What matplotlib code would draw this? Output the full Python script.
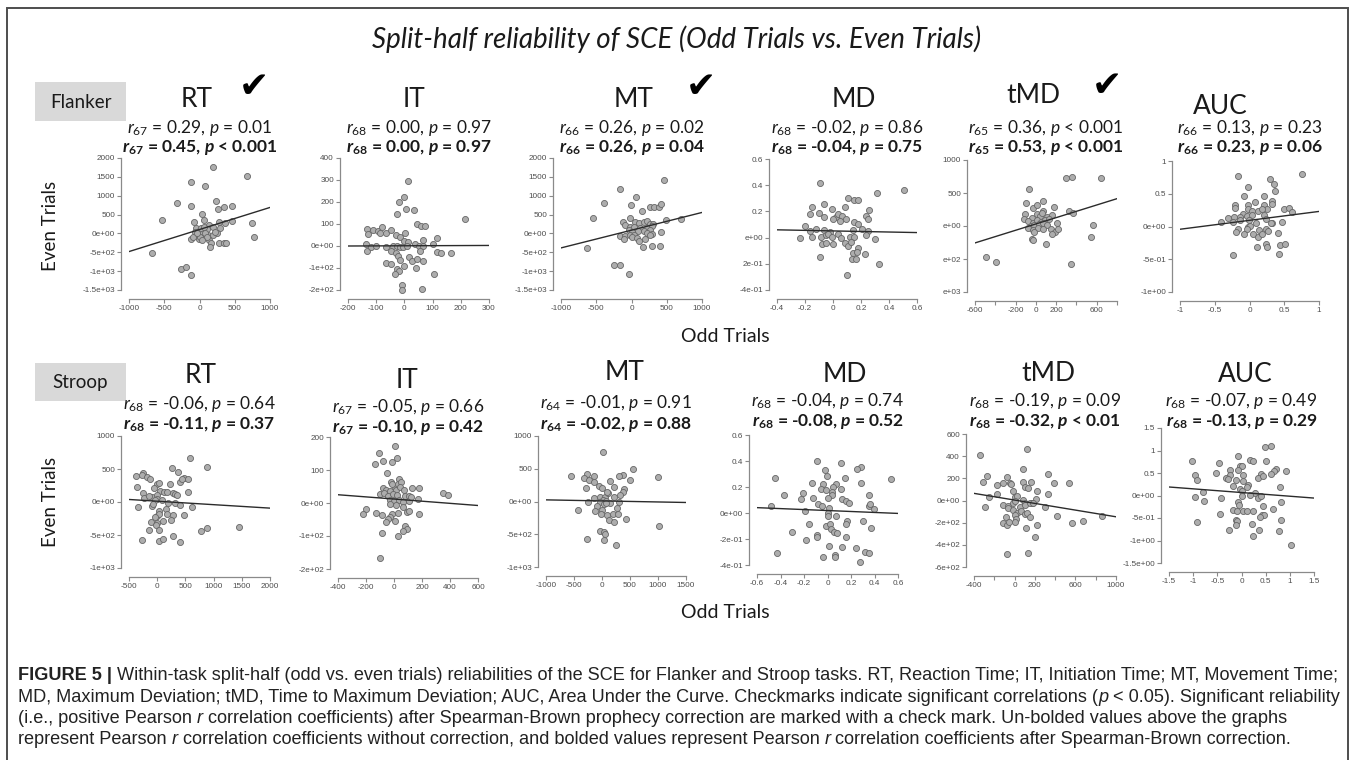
import matplotlib
matplotlib.use('Agg')
import matplotlib.pyplot as plt
import numpy as np
from matplotlib.patches import Rectangle

plt.rcParams['mathtext.fontset'] = 'custom'
plt.rcParams['mathtext.rm'] = 'Lato'
plt.rcParams['mathtext.it'] = 'Lato:italic'
plt.rcParams['mathtext.bf'] = 'Lato:bold'
try:
    plt.rcParams['mathtext.bfit'] = 'Lato:italic:bold'
    BFIT = r'\mathbfit'
except KeyError:
    BFIT = r'\mathbf'

# ---------------- DATA ----------------
tasks = ['Flanker', 'Stroop']
measures = ['RT', 'IT', 'MT', 'MD', 'tMD', 'AUC']

# Flanker
flanker_rt_odd = [190,669,-125,83,-324,-116,229,262,347,465,-537,40,-74,68,139,276,366,465,744,-55,-7,101,196,291,-31,45,125,196,244,777,-125,-2,139,168,272,347,376,148,-674,-262,-191,-125,-59,21,64,-88,7,78,-40,101,31,220]
flanker_rt_even = [1760,1530,1370,1270,803,723,856,644,706,732,343,520,298,360,228,298,272,325,272,139,77,113,183,139,-12,6,-38,-38,6,-82,-153,-153,-171,-241,-259,-241,-241,-348,-525,-942,-898,-1102,33,139,183,-100,-82,24,6,-82,-171,50]
flanker_it_odd = [12,-3,-19,7,35,-26,44,59,74,-133,-130,-112,-95,-87,-79,-64,-46,-31,-17,1,-2,12,36,65,114,100,-136,-134,-118,-101,-64,-40,-25,-17,-5,9,51,67,56,115,129,164,-49,-31,-24,18,26,46,65,-65,-49,-17,0,-25,-19,-35,42,106,-7,-8,63,214]
flanker_it_even = [297,221,198,169,163,144,100,89,89,79,56,71,66,59,86,60,71,48,40,59,25,17,7,29,37,7,7,-21,-6,-1,-6,2,-1,-6,-3,-1,-1,-1,-24,-29,-32,-30,-24,-32,-47,-52,-70,-58,-70,-75,-82,-64,-91,-105,-113,-128,-102,-125,-179,-202,-197,123]
flanker_mt_odd = [456,-158,69,-385,-12,144,258,324,383,421,-546,-17,-121,-87,54,106,173,220,267,305,494,702,-17,40,125,220,286,-40,7,87,173,258,-158,-97,-26,40,220,286,423,-111,7,78,111,196,258,163,286,404,-636,-243,-168,-35]
flanker_mt_even = [1404,1191,978,801,748,606,713,713,695,784,405,396,290,228,290,264,290,317,255,237,343,379,166,175,139,157,184,86,51,68,59,95,-65,-65,-38,-38,24,-3,51,-153,-82,-109,-198,-153,-47,-348,-330,-330,-392,-835,-844,-1083]
flanker_md_odd = [-0.095,0.314,0.505,-0.15,-0.067,-0.005,0.107,0.086,0.15,0.179,0.257,-0.167,-0.1,-0.067,0.024,0.036,0.064,0,0.048,0.09,0.148,0.179,0.238,0.248,-0.198,-0.119,-0.167,-0.067,-0.024,0.143,0.207,0.25,-0.238,-0.148,-0.088,-0.048,-0.036,-0.005,0.036,0.06,0.119,0.15,0.238,-0.079,-0.048,0,0.086,0.107,0.126,0.179,0.143,0.174,0.229,0.298,-0.095,0.133,0.162,0.331,0.102]
flanker_md_even = [0.419,0.344,0.365,0.23,0.253,0.217,0.304,0.232,0.289,0.284,0.212,0.179,0.186,0.161,0.161,0.179,0.166,0.141,0.123,0.143,0.12,0.105,0.166,0.143,0.09,0.067,0.051,0.059,0.046,0.059,0.064,0.051,-0.005,0.001,0.008,0.021,0.029,0.008,0.026,-0.005,0.008,0.001,0.021,-0.05,-0.043,-0.048,-0.043,-0.063,-0.035,-0.076,-0.114,-0.107,-0.125,-0.013,-0.148,-0.163,-0.163,-0.203,-0.285]
flanker_tmd_odd = [294,360,640,-64,-100,74,-25,15,74,183,331,364,-103,-41,8,41,58,107,156,-117,-74,-31,8,48,90,132,205,-51,-15,35,67,107,-74,-25,25,74,146,192,222,-21,156,-38,-31,97,567,547,-491,-393,347]
flanker_tmd_even = [722,742,727,565,342,377,271,311,225,286,230,200,175,124,175,149,200,139,165,99,78,48,84,58,84,99,48,-3,8,23,38,8,-28,-63,-28,-43,-53,-84,-38,-94,-119,-190,-205,-266,13,-170,-473,-544,-575]
flanker_auc_odd = [-0.167,0.756,-0.019,0.301,0.349,0.373,-0.072,0.211,-0.206,-0.215,-0.024,0.081,0.321,0.321,0.206,0.258,-0.019,0.029,0.124,0.187,0.502,0.569,0.608,-0.096,-0.22,-0.139,-0.043,0.029,0.206,0.244,-0.306,-0.416,-0.234,-0.139,-0.005,0.1,0.325,0.474,0.306,-0.172,-0.019,0.014,0.139,0.234,0.268,-0.196,-0.043,-0.081,0.053,0.12,0.187,0.411,0.11,0.244,0.258,0.435,0.507,0.421,-0.234]
flanker_auc_even = [0.765,0.806,0.602,0.724,0.648,0.541,0.459,0.469,0.321,0.276,0.332,0.378,0.393,0.337,0.327,0.265,0.26,0.24,0.235,0.265,0.26,0.286,0.224,0.189,0.148,0.148,0.158,0.173,0.173,0.122,0.133,0.066,0.071,0.097,0.097,0.056,0.046,0.071,0.046,-0.031,-0.005,0.005,-0.046,-0.031,-0.071,-0.082,-0.041,-0.122,-0.122,-0.158,-0.117,-0.097,-0.311,-0.27,-0.311,-0.286,-0.26,-0.413,-0.429]

# Stroop
stroop_rt_odd = [576,888,256,375,-375,-245,-263,-175,-128,475,404,434,552,-364,2,38,-51,225,-258,-98,50,120,179,273,314,352,552,-234,-145,-9,2,-45,83,197,314,404,611,-334,-98,-68,38,150,-9,38,-45,168,273,481,238,-110,109,-9,-21,-145,38,1451,888,776,-275,26,109,273,404]
stroop_rt_even = [662,531,521,461,400,446,411,375,345,370,310,345,345,234,275,285,209,270,134,83,174,144,144,134,123,108,144,58,93,108,48,23,23,-18,-18,-43,-78,-83,-68,-28,-134,-108,-209,-184,-229,-184,-194,-204,-270,-310,-295,-320,-355,-421,-421,-380,-395,-446,-577,-587,-557,-511,-607]
stroop_it_odd = [8,-108,18,-80,-13,-134,-51,-20,39,-80,-56,-103,-68,-32,6,30,51,-13,15,44,70,127,177,348,383,-44,-8,23,82,110,170,-27,-1,39,63,-32,11,63,106,122,-198,-131,-222,-84,-13,27,91,106,177,-32,-44,-60,6,82,91,63,32,-87,-103]
stroop_it_even = [174,152,135,128,125,117,91,65,72,45,40,27,30,37,50,58,65,58,40,48,38,45,45,30,25,20,27,25,20,22,13,10,5,10,2,-3,-6,-11,5,17,-19,-29,-34,-36,-34,-29,-28,-24,-34,-43,-49,-59,-56,-71,-78,-84,-100,-92,-168]
stroop_mt_odd = [12,560,369,494,-548,-274,-327,-238,-149,-149,-60,0,149,220,310,387,375,327,-286,994,-137,-30,48,101,89,12,77,208,298,-250,-42,42,149,268,-89,0,-429,-131,-18,89,196,286,429,125,208,-30,42,54,-268,42,256,1012,77]
stroop_mt_even = [751,492,406,330,386,421,355,330,396,305,239,203,320,228,391,193,142,102,203,376,51,66,66,127,152,25,15,76,0,0,0,-36,-25,-102,-76,-127,-127,-152,-193,-203,-188,-193,-264,-279,-320,-447,-467,-492,-569,-584,-660,-381,-25]
stroop_md_odd = [-0.093,0.113,0.287,0.249,-0.021,-0.001,-0.449,0.153,0.284,0.543,-0.13,-0.036,0.073,0.05,-0.058,-0.016,0.036,0.113,-0.207,-0.372,0.041,0.349,-0.222,-0.127,0.001,0.121,0.155,0.184,-0.084,-0.05,0.349,0.363,0.392,-0.477,-0.192,0.016,0.001,0.001,0.07,0.17,0.158,0.298,0.369,-0.155,-0.013,0.021,0.03,0.059,0.079,-0.306,-0.093,-0.093,0.155,-0.184,0.016,0.121,0.244,0.315,0.349,-0.429,-0.041,0.064,0.064,0.278]
stroop_md_even = [0.4,0.382,0.356,0.336,0.331,0.285,0.272,0.267,0.233,0.264,0.228,0.221,0.221,0.197,0.182,0.177,0.164,0.182,0.151,0.138,0.138,0.138,0.105,0.113,0.113,0.108,0.095,0.079,0.069,0.054,0.056,0.069,0.033,0.056,0.015,0.041,-0.003,-0.023,-0.023,-0.059,-0.085,-0.059,-0.118,-0.085,-0.097,-0.087,-0.126,-0.144,-0.151,-0.149,-0.169,-0.187,-0.182,-0.208,-0.254,-0.259,-0.272,-0.297,-0.31,-0.31,-0.336,-0.323,-0.341,-0.374]
stroop_tmd_odd = [-340,121,81,331,-313,-274,-169,-112,-70,-44,-34,88,104,137,160,219,390,541,328,-248,-176,-18,5,22,81,107,170,213,-291,-112,-60,-18,5,55,98,154,180,302,-60,-11,28,68,98,121,157,5,-84,417,865,-119,-77,-51,15,5,219,114,562,674,203,-77,130]
stroop_tmd_even = [413,464,283,240,165,225,141,162,210,156,147,165,119,110,171,86,162,162,59,35,56,86,35,44,5,-26,-20,11,-56,-41,-50,-20,-2,-56,-41,-26,-20,-62,-71,-86,-116,-95,-122,-116,-147,-131,-147,-141,-141,-207,-222,-192,-171,-192,-225,-252,-201,-186,-328,-479,-473]
stroop_auc_odd = [0.484,0.601,-0.069,-1.016,-0.463,0.173,0.242,0.498,-0.035,0.014,-0.069,-0.242,0.712,0.677,0.912,-0.968,-0.518,-0.242,0.035,0.394,0.608,-0.912,-0.325,-0.277,-0.104,0.035,0.346,0.435,0.138,-0.173,0.124,0.795,-0.035,0,-0.795,0.276,0,0.173,0.38,-0.968,-0.415,0.332,0.401,-0.781,0.816,-0.069,-0.055,0.449,0.657,-0.173,-0.083,0.035,0.124,0.242,0.415,0.47,-0.449,0.38,0.816,-0.912,-0.104,-0.083,-0.124,0.207,0.366,-0.263,0.781,0.242,1.016]
stroop_auc_even = [1.078,1.093,0.87,0.759,0.722,0.796,0.759,0.774,0.648,0.648,0.559,0.574,0.589,0.537,0.552,0.463,0.5,0.463,0.463,0.478,0.478,0.337,0.389,0.367,0.352,0.33,0.389,0.426,0.241,0.204,0.189,0.189,0.144,0.093,0.078,0.056,-0.004,0.019,-0.004,-0.033,-0.056,-0.056,-0.019,-0.13,-0.152,-0.152,-0.204,-0.226,-0.3,-0.315,-0.337,-0.337,-0.352,-0.352,-0.426,-0.426,-0.411,-0.478,-0.537,-0.589,-0.537,-0.574,-0.663,-0.626,-0.774,-0.774,-0.796,-0.907,-1.093]

# regression lines (intercept, slope)
flanker_fit_intercept = [104, 1, 86, 0.051, 31, 0.094]
flanker_fit_slope = [0.585, 0.005, 0.47, -0.021, 0.479, 0.136]
stroop_fit_intercept = [12, 12, 9, 0.019, 4, 0.066]
stroop_fit_slope = [-0.0524, -0.0326, -0.016, -0.037, -0.151, -0.082]

# statistics
flanker_df = [67, 68, 66, 68, 65, 66]
flanker_r = ['0.29', '0.00', '0.26', '-0.02', '0.36', '0.13']
flanker_p = ['= 0.01', '= 0.97', '= 0.02', '= 0.86', '< 0.001', '= 0.23']
flanker_r_sb = ['0.45', '0.00', '0.26', '-0.04', '0.53', '0.23']
flanker_p_sb = ['< 0.001', '= 0.97', '= 0.04', '= 0.75', '< 0.001', '= 0.06']
flanker_check = [True, False, True, False, True, False]

stroop_df = [68, 67, 64, 68, 68, 68]
stroop_r = ['-0.06', '-0.05', '-0.01', '-0.04', '-0.19', '-0.07']
stroop_p = ['= 0.64', '= 0.66', '= 0.91', '= 0.74', '= 0.09', '= 0.49']
stroop_r_sb = ['-0.11', '-0.10', '-0.02', '-0.08', '-0.32', '-0.13']
stroop_p_sb = ['= 0.37', '= 0.42', '= 0.88', '= 0.52', '< 0.01', '= 0.29']
stroop_check = [False, False, False, False, False, False]

# axis ticks and labels
flanker_xticks = [[-1000,-500,0,500,1000], [-200,-100,0,100,200,300], [-1000,-500,0,500,1000],
                  [-0.4,-0.2,0,0.2,0.4,0.6], [-600,-400,-200,0,200,400,600,800], [-1,-0.5,0,0.5,1]]
flanker_xlabels = [['-1000','-500','0','500','1000'], ['-200','-100','0','100','200','300'],
                   ['-1000','-500','0','500','1000'], ['-0.4','-0.2','0','0.2','0.4','0.6'],
                   ['-600','','-200','0','200','','600',''], ['-1','-0.5','0','0.5','1']]
flanker_yticks = [[-1500,-1000,-500,0,500,1000,1500,2000], [-200,-100,0,100,200,300,400],
                  [-1500,-1000,-500,0,500,1000,1500,2000], [-0.4,-0.2,0,0.2,0.4,0.6],
                  [-1000,-500,0,500,1000], [-1,-0.5,0,0.5,1]]
flanker_ylabels = [['-1.5e+03','-1e+03','-5e+02','0e+00','500','1000','1500','2000'],
                   ['-2e+02','-1e+02','0e+00','100','200','300','400'],
                   ['-1.5e+03','-1e+03','-5e+02','0e+00','500','1000','1500','2000'],
                   ['-4e-01','2e-01','e+00','0.2','0.4','0.6'],
                   ['e+03','e+02','e+00','500','1000'],
                   ['-1e+00','-5e-01','0e+00','0.5','1']]
stroop_xticks = [[-500,0,500,1000,1500,2000], [-400,-200,0,200,400,600], [-1000,-500,0,500,1000,1500],
                 [-0.6,-0.4,-0.2,0,0.2,0.4,0.6], [-400,-200,0,200,400,600,800,1000],
                 [-1.5,-1,-0.5,0,0.5,1,1.5]]
stroop_xlabels = [['-500','0','500','1000','1500','2000'], ['-400','-200','0','200','400','600'],
                  ['-1000','-500','0','500','1000','1500'], ['-0.6','-0.4','-0.2','0','0.2','0.4','0.6'],
                  ['-400','','0','200','','600','','1000'], ['-1.5','-1','-0.5','0','0.5','1','1.5']]
stroop_yticks = [[-1000,-500,0,500,1000], [-200,-100,0,100,200], [-1000,-500,0,500,1000],
                 [-0.4,-0.2,0,0.2,0.4,0.6], [-600,-400,-200,0,200,400,600],
                 [-1.5,-1,-0.5,0,0.5,1,1.5]]
stroop_ylabels = [['-1e+03','-5e+02','0e+00','500','1000'], ['-2e+02','-1e+02','0e+00','100','200'],
                  ['-1e+03','-5e+02','0e+00','500','1000'], ['-4e-01','-2e-01','0e+00','0.2','0.4','0.6'],
                  ['-6e+02','-4e+02','-2e+02','0e+00','200','400','600'],
                  ['-1.5e+00','-1e+00','-5e-01','0e+00','0.5','1','1.5']]

main_title = 'Split-half reliability of SCE (Odd Trials vs. Even Trials)'
x_label = 'Odd Trials'
y_label = 'Even Trials'
caption_lines = [
    [('FIGURE 5 |', 'bold'), (' Within-task split-half (odd vs. even trials) reliabilities of the SCE for Flanker and Stroop tasks. RT, Reaction Time; IT, Initiation Time; MT, Movement Time;', 'normal')],
    [('MD, Maximum Deviation; tMD, Time to Maximum Deviation; AUC, Area Under the Curve. Checkmarks indicate significant correlations (', 'normal'), ('p', 'italic'), (' < 0.05). Significant reliability', 'normal')],
    [('(i.e., positive Pearson', 'normal'), (' r', 'italic'), (' correlation coefficients) after Spearman-Brown prophecy correction are marked with a check mark. Un-bolded values above the graphs', 'normal')],
    [('represent Pearson', 'normal'), (' r', 'italic'), (' correlation coefficients without correction, and bolded values represent Pearson', 'normal'), (' r', 'italic'), (' correlation coefficients after Spearman-Brown correction.', 'normal')],
]

# ---------------- LAYOUT ----------------
W, H = 1357, 760
fig = plt.figure(figsize=(W / 100, H / 100), dpi=100)
fig.patch.set_facecolor('white')

def fx(x):
    return x / W

def fy(y):
    return 1 - y / H

# plot-region pixel boxes (left, right, top, bottom) = tick extent
panel_px = [
    [(129, 270, 158, 290), (348, 489, 158, 290), (561, 702, 158, 290),
     (777, 917, 159, 290), (975, 1117, 160, 292), (1180, 1319, 161, 292)],
    [(129, 270, 436, 568), (338, 478, 437, 569), (546, 686, 436, 567),
     (757, 898, 435, 565), (974, 1116, 434, 567), (1169, 1314, 428, 563)],
]
title_xy = [
    [(197, 107), (414, 107), (634, 107), (854, 107), (1033, 103), (1220, 114)],
    [(201, 383), (407, 388), (625, 380), (845, 382), (1048, 381), (1245, 382)],
]
check_xy = [(254, 87), (701, 87), (1107, 86)]
stat_base = [
    [(133, 152)] * 6,
    [(409, 429), (412, 432), (408, 429), (406, 426), (406, 426), (406, 426)],
]
task_box = [(35, 82, 126, 121), (35, 363, 126, 401)]

odd = [[flanker_rt_odd, flanker_it_odd, flanker_mt_odd, flanker_md_odd, flanker_tmd_odd, flanker_auc_odd],
       [stroop_rt_odd, stroop_it_odd, stroop_mt_odd, stroop_md_odd, stroop_tmd_odd, stroop_auc_odd]]
even = [[flanker_rt_even, flanker_it_even, flanker_mt_even, flanker_md_even, flanker_tmd_even, flanker_auc_even],
        [stroop_rt_even, stroop_it_even, stroop_mt_even, stroop_md_even, stroop_tmd_even, stroop_auc_even]]
fit_a = [flanker_fit_intercept, stroop_fit_intercept]
fit_b = [flanker_fit_slope, stroop_fit_slope]
dfs = [flanker_df, stroop_df]
rs = [flanker_r, stroop_r]
ps = [flanker_p, stroop_p]
rsbs = [flanker_r_sb, stroop_r_sb]
psbs = [flanker_p_sb, stroop_p_sb]
checks = [flanker_check, stroop_check]
xticks = [flanker_xticks, stroop_xticks]
xlabels = [flanker_xlabels, stroop_xlabels]
yticks = [flanker_yticks, stroop_yticks]
ylabels = [flanker_ylabels, stroop_ylabels]

AX_COLOR = '#8a8a8a'
TICK_TXT = '#4d4d4d'
TXT = '#1a1a1a'

# outer frame
fig.add_artist(Rectangle((fx(7), fy(775)), (1348 - 7) / W, (775 - 8) / H,
                         transform=fig.transFigure, fill=False, ec='#4d4d4d', lw=1.4))

fig.text(fx(677), fy(48), main_title, ha='center', va='baseline', fontsize=20,
         family='Lato', style='italic', color=TXT)

check_i = 0
for row in range(2):
    # task label box
    bx0, by0, bx1, by1 = task_box[row]
    fig.add_artist(Rectangle((fx(bx0), fy(by1)), (bx1 - bx0) / W, (by1 - by0) / H,
                             transform=fig.transFigure, fc='#d9d9d9', ec='none'))
    fig.text(fx((bx0 + bx1) / 2), fy((by0 + by1) / 2 + 1), tasks[row], ha='center', va='center',
             fontsize=13.5, family='Lato', color=TXT)

    for col in range(6):
        x0, x1, y0, y1 = panel_px[row][col]
        ax = fig.add_axes([fx(x0), fy(y1), (x1 - x0) / W, (y1 - y0) / H])
        xt = xticks[row][col]
        yt = yticks[row][col]
        ax.set_xlim(xt[0], xt[-1])
        ax.set_ylim(yt[0], yt[-1])
        ax.set_facecolor('none')
        for s in ['top', 'right']:
            ax.spines[s].set_visible(False)
        for s in ['left', 'bottom']:
            ax.spines[s].set_color(AX_COLOR)
            ax.spines[s].set_linewidth(0.9)
        ax.spines['left'].set_position(('outward', 5.5))
        ax.spines['bottom'].set_position(('outward', 6.5))
        ax.spines['bottom'].set_bounds(xt[0], xt[-1])
        ax.spines['left'].set_bounds(yt[0], yt[-1])
        ax.set_xticks(xt)
        ax.set_xticklabels(xlabels[row][col])
        ax.set_yticks(yt)
        ax.set_yticklabels(ylabels[row][col])
        ax.tick_params(direction='out', length=3, width=0.8, color=AX_COLOR,
                       labelsize=5.9, labelcolor=TICK_TXT, pad=1.5)
        for lab in ax.get_xticklabels() + ax.get_yticklabels():
            lab.set_family('Liberation Sans')

        ox = np.array(odd[row][col], dtype=float)
        ev = np.array(even[row][col], dtype=float)
        ax.scatter(ox, ev, s=19, facecolor='#adadad', edgecolor='#666666',
                   linewidths=0.6, zorder=3, clip_on=False)
        lx = np.array([xt[0], xt[-1]], dtype=float)
        ax.plot(lx, fit_a[row][col] + fit_b[row][col] * lx, color='#2b2b2b', lw=1.0, zorder=4)

        # titles
        tx, ty = title_xy[row][col]
        fig.text(fx(tx), fy(ty), measures[col], ha='center', va='baseline', fontsize=19,
                 family='Lato', color=TXT)
        if checks[row][col]:
            cx, cy = check_xy[check_i]
            check_i += 1
            fig.text(fx(cx), fy(cy), '\u2714', ha='center', va='center', fontsize=26,
                     family='DejaVu Sans', color='black')

        cxm = (x0 + x1) / 2
        b1, b2 = stat_base[row][col]
        df = dfs[row][col]
        s1 = r'$\mathit{r}_{%d}$ = %s, $\mathit{p}$ %s' % (df, rs[row][col], ps[row][col])
        s2 = r'$%s{r}_{\mathbf{%d}}$ = %s, $%s{p}$ %s' % (BFIT, df, rsbs[row][col], BFIT, psbs[row][col])
        fig.text(fx(cxm), fy(b1), s1, ha='center', va='baseline', fontsize=12.5,
                 family='Lato', color=TXT)
        fig.text(fx(cxm), fy(b2), s2, ha='center', va='baseline', fontsize=12.5,
                 family='Lato', weight='bold', color=TXT)

# axis titles
for yc in (226, 502):
    fig.text(fx(51), fy(yc), y_label, rotation=90, ha='center', va='center', fontsize=13.5,
             family='Lato', color=TXT)
for yc in (336, 612):
    fig.text(fx(725), fy(yc), x_label, ha='center', va='center', fontsize=14,
             family='Lato', color=TXT)

# caption
renderer = fig.canvas.get_renderer()

def draw_line(x_px, y_px, segs, size, keep=True):
    x = x_px
    made = []
    for txt, sty in segs:
        kw = dict(fontsize=size, family='Liberation Sans', color='#222222', ha='left', va='baseline')
        if sty == 'bold':
            kw['weight'] = 'bold'
        elif sty == 'italic':
            kw['style'] = 'italic'
        t = fig.text(fx(x), fy(y_px), txt, **kw)
        bb = t.get_window_extent(renderer)
        x = bb.x1
        made.append(t)
    if not keep:
        for t in made:
            t.remove()
    return x - x_px

base_size = 10.0
w0 = draw_line(18, 680, caption_lines[0], base_size, keep=False)
cap_size = base_size * (1322 / w0)
for i, segs in enumerate(caption_lines):
    draw_line(18, 680 + i * 21.5, segs, cap_size)

fig.savefig('out.png', dpi=100, facecolor='white')
